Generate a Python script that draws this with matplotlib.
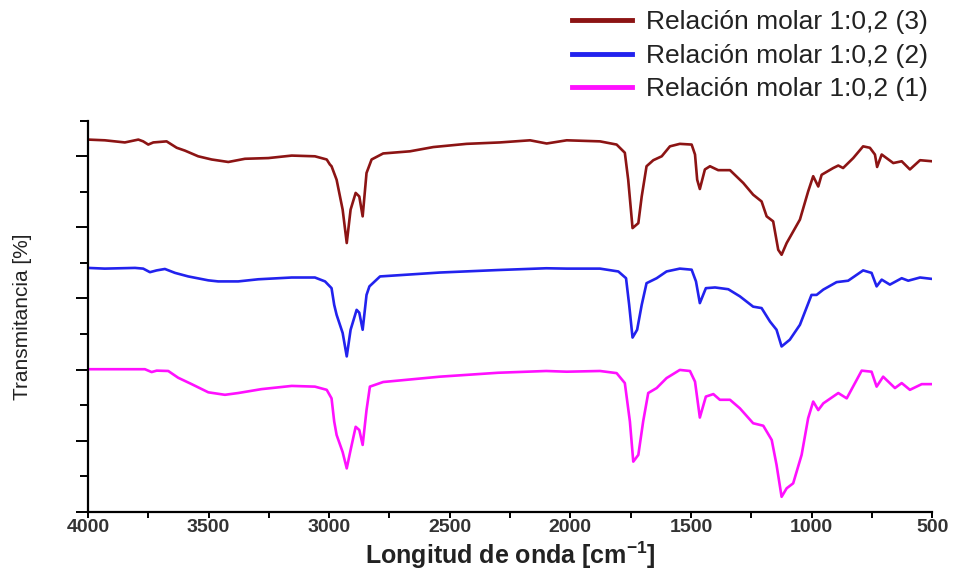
import numpy as np
import matplotlib
matplotlib.use('Agg')
import matplotlib.pyplot as plt
from matplotlib.ticker import MultipleLocator, NullFormatter

plt.rcParams['font.family'] = ['Liberation Sans', 'DejaVu Sans']

# espectros FTIR (desplazados verticalmente)
wn_3 = [4000, 3930, 3847, 3791, 3771, 3750, 3729, 3674, 3632, 3598, 3543, 3487, 3418, 3349, 3252,
        3155, 3059, 3010, 2997, 2990, 2969, 2944, 2927, 2911, 2890, 2875, 2861, 2845, 2824, 2776,
        2665, 2568, 2430, 2292, 2167, 2098, 2015, 1877, 1808, 1774, 1760, 1742, 1718, 1704, 1684,
        1656, 1621, 1587, 1546, 1497, 1483, 1474, 1463, 1442, 1421, 1387, 1338, 1283, 1242, 1207,
        1186, 1159, 1138, 1124, 1103, 1048, 1014, 993, 972, 958, 910, 889, 869, 827, 786, 758,
        737, 728, 709, 661, 626, 592, 550, 500]
t_3 = [10.47, 10.45, 10.39, 10.47, 10.42, 10.33, 10.39, 10.42, 10.24, 10.16, 10.00, 9.91, 9.84, 9.93, 9.95,
       10.02, 10.00, 9.91, 9.77, 9.72, 9.34, 8.50, 7.56, 8.50, 8.97, 8.87, 8.31, 9.53, 9.91, 10.08,
       10.14, 10.26, 10.35, 10.39, 10.45, 10.36, 10.45, 10.42, 10.33, 10.10, 9.34, 7.98, 8.12, 8.87, 9.72,
       9.89, 10.00, 10.28, 10.35, 10.33, 10.05, 9.34, 9.08, 9.63, 9.72, 9.61, 9.61, 9.25, 8.92, 8.73,
       8.31, 8.17, 7.37, 7.23, 7.56, 8.22, 9.01, 9.44, 9.15, 9.48, 9.67, 9.74, 9.67, 9.95, 10.28, 10.24,
       10.05, 9.70, 10.05, 9.81, 9.86, 9.63, 9.89, 9.86]

wn_2 = [4000, 3930, 3805, 3771, 3743, 3715, 3681, 3639, 3584, 3501, 3460, 3377, 3294, 3155, 3059,
        3017, 2990, 2979, 2969, 2944, 2927, 2911, 2886, 2875, 2861, 2845, 2833, 2789, 2541, 2300,
        2100, 2015, 1877, 1801, 1769, 1756, 1742, 1723, 1704, 1684, 1642, 1601, 1546, 1497, 1479,
        1463, 1438, 1400, 1345, 1297, 1242, 1207, 1172, 1145, 1124, 1090, 1048, 1000, 979, 951,
        896, 848, 786, 751, 730, 709, 675, 626, 599, 550, 500]
t_2 = [6.86, 6.84, 6.86, 6.84, 6.74, 6.79, 6.83, 6.72, 6.62, 6.51, 6.48, 6.48, 6.54, 6.59, 6.59,
       6.48, 6.29, 5.82, 5.54, 5.03, 4.37, 5.12, 5.68, 5.60, 5.12, 6.10, 6.34, 6.62, 6.73, 6.80,
       6.85, 6.84, 6.84, 6.76, 6.57, 5.82, 4.90, 5.12, 5.82, 6.43, 6.57, 6.76, 6.84, 6.81, 6.48,
       5.87, 6.29, 6.31, 6.26, 6.06, 5.77, 5.73, 5.35, 5.12, 4.65, 4.84, 5.26, 6.10, 6.10, 6.25,
       6.46, 6.50, 6.79, 6.72, 6.34, 6.53, 6.39, 6.57, 6.50, 6.59, 6.55]

wn_1 = [4000, 3764, 3736, 3715, 3667, 3626, 3570, 3501, 3432, 3377, 3280, 3155, 3059, 3010, 2990,
        2979, 2969, 2944, 2927, 2911, 2890, 2875, 2861, 2845, 2831, 2776, 2541, 2300, 2100, 2015,
        1877, 1808, 1774, 1753, 1739, 1718, 1698, 1677, 1642, 1601, 1546, 1504, 1483, 1463, 1438,
        1407, 1380, 1338, 1297, 1242, 1200, 1165, 1145, 1124, 1103, 1076, 1041, 1014, 993, 972,
        951, 889, 854, 792, 751, 730, 703, 654, 626, 592, 543, 500]
t_1 = [4.01, 4.01, 3.93, 3.97, 3.96, 3.77, 3.59, 3.36, 3.29, 3.34, 3.45, 3.54, 3.52, 3.43, 3.19,
       2.54, 2.16, 1.68, 1.22, 1.74, 2.39, 2.30, 1.88, 2.86, 3.52, 3.65, 3.80, 3.91, 3.96, 3.94,
       3.96, 3.90, 3.62, 2.54, 1.41, 1.60, 2.54, 3.34, 3.48, 3.76, 3.99, 3.96, 3.66, 2.65, 3.24,
       3.31, 3.15, 3.15, 2.91, 2.49, 2.42, 2.02, 1.32, 0.42, 0.66, 0.80, 1.60, 2.63, 3.10, 2.86,
       3.05, 3.34, 3.19, 3.97, 3.94, 3.52, 3.80, 3.48, 3.62, 3.43, 3.59, 3.59]

labels = ['Relación molar 1:0,2 (3)', 'Relación molar 1:0,2 (2)', 'Relación molar 1:0,2 (1)']
colors = ['#8c1414', '#2222ee', '#ff10ff']

fig = plt.figure(figsize=(9.56, 5.75), dpi=100)
ax = fig.add_axes([0.092, 0.110, 0.883, 0.680])

for wn, t, lab, c in zip([wn_3, wn_2, wn_1], [t_3, t_2, t_1], labels, colors):
    ax.plot(wn, t, color=c, lw=1.9, label=lab)

ax.set_xlim(4000, 500)
ax.set_ylim(0, 11)
ax.xaxis.set_major_locator(MultipleLocator(500))
ax.xaxis.set_minor_locator(MultipleLocator(250))
ax.yaxis.set_major_locator(MultipleLocator(2))
ax.yaxis.set_minor_locator(MultipleLocator(1))
ax.yaxis.set_major_formatter(NullFormatter())

for s in ['top', 'right']:
    ax.spines[s].set_visible(False)
for s in ['left', 'bottom']:
    ax.spines[s].set_linewidth(1.6)

ax.tick_params(axis='both', which='major', direction='out', width=1.4)
ax.tick_params(axis='y', which='major', length=9)
ax.tick_params(axis='y', which='minor', length=6, width=1.4)
ax.tick_params(axis='x', which='major', length=4, pad=1, labelsize=14)
ax.tick_params(axis='x', which='minor', length=4, width=1.4)
for lbl in ax.get_xticklabels():
    lbl.set_fontweight('bold')
    lbl.set_color('#333333')

ax.set_xlabel('Longitud de onda [cm$^{\\mathregular{-1}}$]', fontsize=18, fontweight='bold',
              color='#222222', labelpad=3)
ax.set_ylabel('Transmitancia [%]', fontsize=15, color='#222222', labelpad=28)

leg = fig.legend(loc='upper left', bbox_to_anchor=(0.598, 0.982), frameon=False,
                 fontsize=19, handlelength=2.3, handletextpad=0.5, labelspacing=0.36,
                 borderpad=0, borderaxespad=0)
for line in leg.get_lines():
    line.set_linewidth(3.5)
for txt in leg.get_texts():
    txt.set_color('#222222')

fig.savefig('out.png', dpi=100)
